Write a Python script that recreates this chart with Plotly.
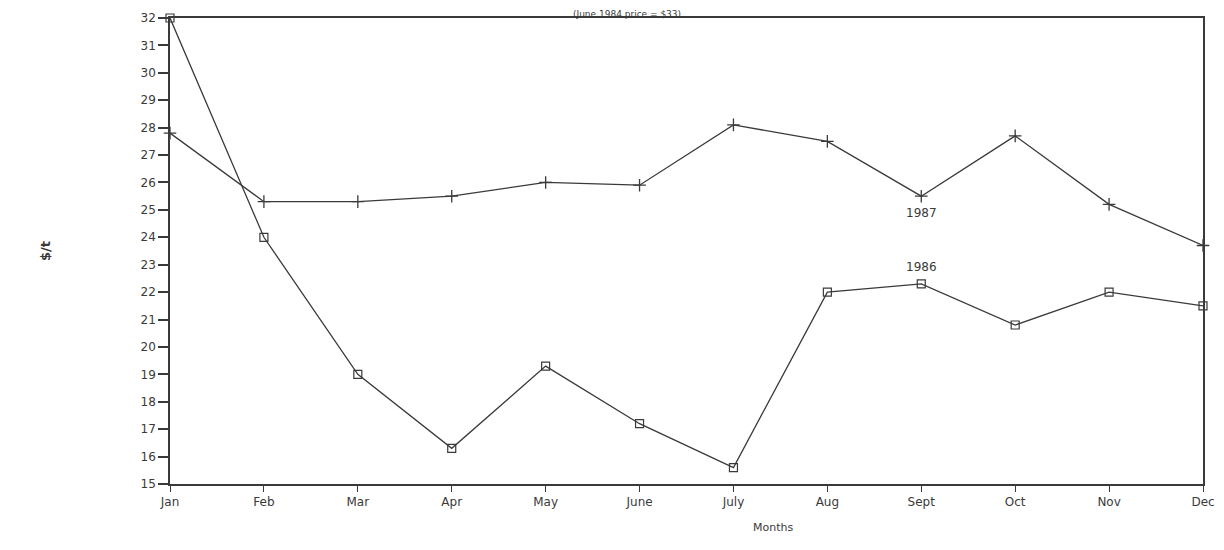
import plotly.graph_objects as go

months = ["Jan", "Feb", "Mar", "Apr", "May", "June", "July", "Aug", "Sept", "Oct", "Nov", "Dec"]
price_1987 = [27.8, 25.3, 25.3, 25.5, 26.0, 25.9, 28.1, 27.5, 25.5, 27.7, 25.2, 23.7]
price_1986 = [32.0, 24.0, 19.0, 16.3, 19.3, 17.2, 15.6, 22.0, 22.3, 20.8, 22.0, 21.5]
y_ticks = list(range(15, 33))

x_idx = list(range(len(months)))
ink = "#3a3a3a"
font = dict(family="DejaVu Sans", size=12, color=ink)

fig = go.Figure()
fig.add_trace(go.Scatter(
    x=x_idx, y=price_1987, mode="lines+markers", name="1987",
    line=dict(color=ink, width=1.3),
    marker=dict(symbol="cross-thin", size=9, line=dict(color=ink, width=1.3)),
    cliponaxis=False,
))
fig.add_trace(go.Scatter(
    x=x_idx, y=price_1986, mode="lines+markers", name="1986",
    line=dict(color=ink, width=1.3),
    marker=dict(symbol="square-open", size=8, color=ink, line=dict(width=1.2)),
    cliponaxis=False,
))

fig.update_layout(
    width=1208, height=534,
    margin=dict(l=162, r=13, t=10, b=58),
    paper_bgcolor="white", plot_bgcolor="white",
    showlegend=False,
    font=font,
    xaxis=dict(
        range=[0, 11], tickmode="array", tickvals=x_idx, ticktext=months,
        showgrid=False, zeroline=False, showline=True, linecolor=ink, linewidth=1.6,
        mirror=True, ticks="outside", ticklen=6, tickcolor=ink, tickwidth=1.3,
        tickfont=font, automargin=False,
    ),
    yaxis=dict(
        range=[15, 32], tickmode="array", tickvals=y_ticks,
        showgrid=False, zeroline=False, showline=True, linecolor=ink, linewidth=1.6,
        mirror=True, ticks="outside", ticklen=10, tickcolor=ink, tickwidth=1.6,
        tickfont=dict(family="DejaVu Sans", size=12, color=ink), automargin=False,
    ),
    annotations=[
        dict(text="(June 1984 price = $33)", xref="paper", yref="paper",
             x=0.442, y=1.0, yshift=10, xanchor="center", yanchor="top",
             borderpad=0,
             showarrow=False, font=dict(family="DejaVu Sans", size=9, color=ink)),
        dict(text="Months", xref="paper", yref="paper",
             x=0.584, y=-0.094, xanchor="center", yanchor="middle",
             showarrow=False, font=dict(family="DejaVu Sans", size=11, color=ink)),
        dict(text="<b>$/t</b>", xref="paper", yref="paper", textangle=-90,
             x=-0.121, y=0.5, xanchor="center", yanchor="middle",
             showarrow=False, font=dict(family="DejaVu Sans", size=13, color=ink)),
        dict(text="1987", xref="x", yref="y", x=8, y=24.9,
             xanchor="center", yanchor="middle", showarrow=False, font=font),
        dict(text="1986", xref="x", yref="y", x=8, y=22.9,
             xanchor="center", yanchor="middle", showarrow=False, font=font),
    ],
)

fig.write_html("out.html")
